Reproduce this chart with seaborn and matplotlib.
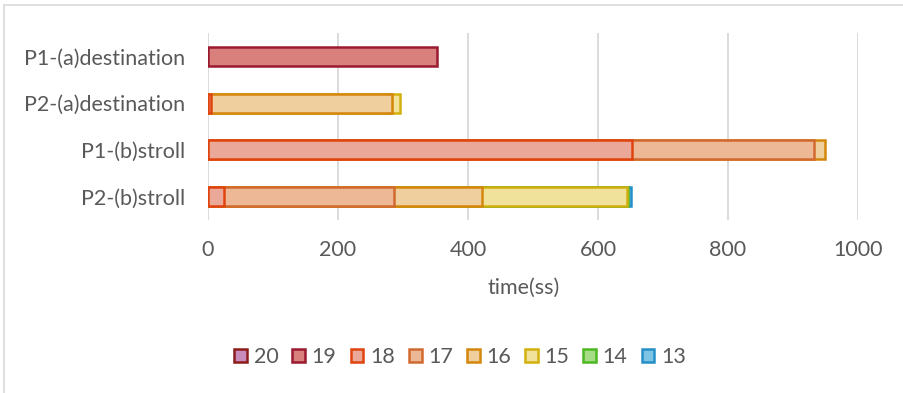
import numpy as np
import pandas as pd
import matplotlib
matplotlib.use("Agg")
import matplotlib.pyplot as plt
from matplotlib.patches import Patch
from matplotlib.lines import Line2D
import seaborn as sns

# Categories (top to bottom) and stacked segment series (left to right)
categories = ["P1-(a)destination", "P2-(a)destination", "P1-(b)stroll", "P2-(b)stroll"]
series_names = ["20", "19", "18", "17", "16", "15", "14", "13"]

s20 = [0, 0, 0, 0]
s19 = [353, 0, 0, 0]
s18 = [0, 5, 653, 24]
s17 = [0, 0, 280, 262]
s16 = [0, 278, 16, 135]
s15 = [0, 12, 0, 224]
s14 = [0, 0, 0, 1.5]
s13 = [0, 0, 0, 5]

x_ticks = [0, 200, 400, 600, 800, 1000]

edge_colors = ["#8C1C1C", "#9A1A30", "#E0440E", "#D2692E", "#D4860B", "#D2B00C", "#4CB822", "#2590C8"]
fill_colors = ["#C78CBB", "#D9807C", "#EAA898", "#EDB896", "#F0CF9E", "#F0E19B", "#A6DC86", "#7DC3E4"]

series_values = [s20, s19, s18, s17, s16, s15, s14, s13]

sns.set_theme(style="white")
plt.rcParams["font.family"] = ["Lato", "DejaVu Sans"]
text_gray = "#595959"
fs = 15.5
edge_lw = 1.8

fig = plt.figure(figsize=(9.04, 3.93), dpi=100)
ax = fig.add_axes([208 / 904, 1 - 220 / 393, 650 / 904, 187 / 393])

# Stacked bars: draw cumulative totals from the last series to the first,
# each shorter stack overlaying the longer one beneath it.
vals = np.array(series_values, dtype=float)
cum = np.cumsum(vals, axis=0)
for k in range(len(series_names) - 1, -1, -1):
    widths = np.where(vals[k] > 0, cum[k], np.nan)
    df = pd.DataFrame({"category": categories, "time": widths})
    sns.barplot(data=df, x="time", y="category", order=categories, orient="h",
                color=fill_colors[k], edgecolor=edge_colors[k], linewidth=edge_lw,
                width=0.41, saturation=1, errorbar=None, ax=ax, zorder=3)

ax.set_xlim(0, 1000)
ax.set_ylim(3.5, -0.5)
ax.set_xticks(x_ticks)
ax.set_xticklabels([str(t) for t in x_ticks])
ax.xaxis.grid(True, color="#D9D9D9", linewidth=1.3, zorder=0)
ax.yaxis.grid(False)
ax.set_axisbelow(True)
for sp in ax.spines.values():
    sp.set_visible(False)
ax.tick_params(axis="both", length=0, labelsize=fs, labelcolor=text_gray)
ax.tick_params(axis="x", pad=14.5)
ax.tick_params(axis="y", pad=16.5)
ax.set_ylabel("")
ax.set_xlabel("time(ss)", fontsize=fs, color=text_gray, va="center")
ax.xaxis.set_label_coords((524 - 208) / 650, -(288 - 220) / 187)

handles = [Patch(facecolor=f, edgecolor=e, linewidth=edge_lw) for f, e in zip(fill_colors, edge_colors)]
leg = fig.legend(handles, series_names, loc="center", bbox_to_anchor=(460 / 904, 1 - 357 / 393),
                 ncol=8, frameon=False, fontsize=fs, handlelength=0.6, handleheight=0.6,
                 handletextpad=0.3, columnspacing=0.65, borderaxespad=0)
for t in leg.get_texts():
    t.set_color(text_gray)

# Chart area border (left and top edges)
fig.add_artist(Line2D([4.5 / 904, 4.5 / 904], [0, 1 - 5 / 393], transform=fig.transFigure,
                      color="#D9D9D9", linewidth=1.2))
fig.add_artist(Line2D([4.5 / 904, 1], [1 - 5 / 393, 1 - 5 / 393], transform=fig.transFigure,
                      color="#D9D9D9", linewidth=1.2))

fig.savefig("out.png", dpi=100, facecolor="white")
